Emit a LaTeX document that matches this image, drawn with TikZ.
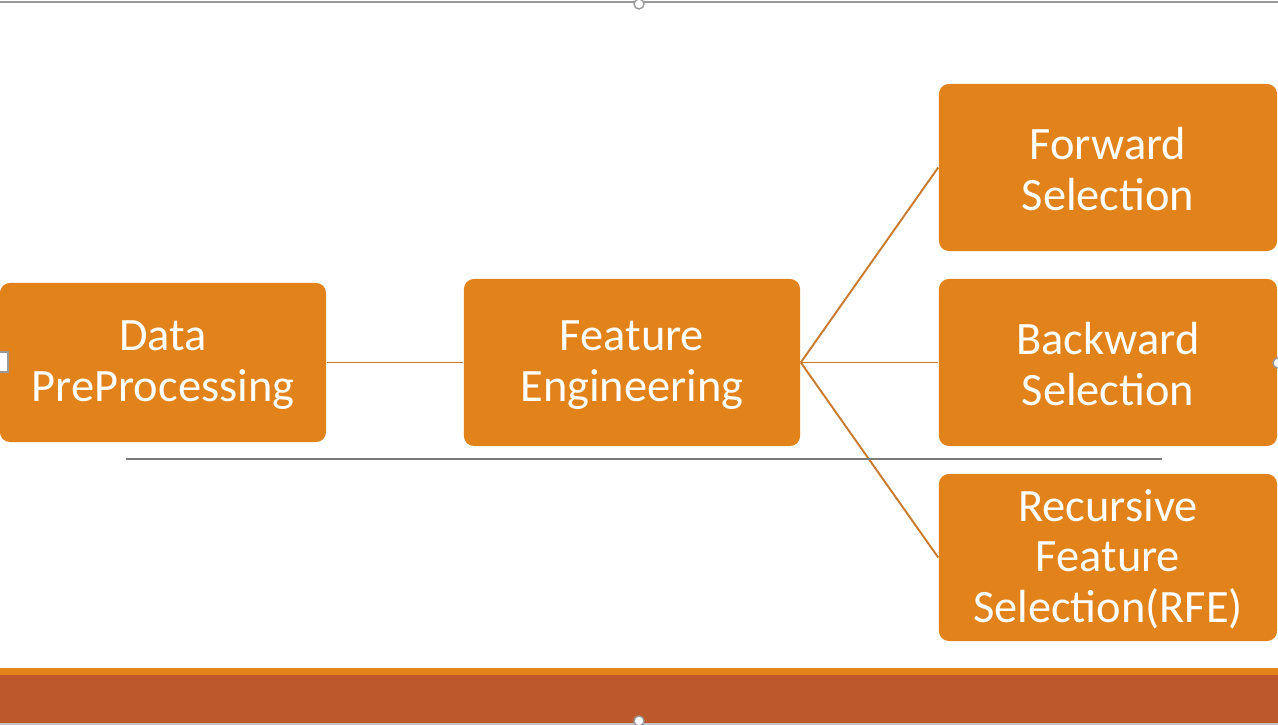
\documentclass[tikz,border=0pt]{standalone}
\usepackage{fontspec}
\setmainfont{Carlito}
\usetikzlibrary{positioning}
\definecolor{borange}{HTML}{E2821A}
\definecolor{lorange}{HTML}{C97A2C}
\definecolor{brust}{HTML}{BD582C}
\definecolor{bar}{HTML}{E3831A}
\definecolor{frame}{HTML}{9A9A9A}

\begin{document}
\begin{tikzpicture}[x=0.01cm, y=-0.01cm,
  box/.style={fill=borange, rounded corners=10pt*0.2845, minimum width=338*0.2845pt, minimum height=167*0.2845pt, inner sep=0pt, align=center, text=white, font=\fontsize{13.2}{14.3}\selectfont},
  link/.style={draw=lorange, line width=0.55pt},
  handle/.style={draw=frame, fill=white, line width=0.4pt},
]
  \useasboundingbox (0,0) rectangle (1278,725);

  % bottom bars
  \fill[bar] (0,668) rectangle (1278,675);
  \fill[brust] (0,675) rectangle (1278,725);

  % selection frame
  \draw[frame, line width=0.6pt] (0,2) -- (1278,2);
  \draw[frame!60, line width=0.5pt] (0,724) -- (1278,724);

  \node[box, minimum width=326*0.2845pt, minimum height=159*0.2845pt] (data) at (163,362.5) {\strut Data\\PreProcessing};
  \node[box, minimum width=336*0.2845pt] (feat) at (632,362.5) {\strut Feature\\Engineering};

  \node[box] (fwd) at (1108,167.5) {\strut Forward\\Selection};
  \node[box] (bwd) at (1108,362.5) {\strut Backward\\Selection};
  \node[box] (rfe) at (1108,557.5) {\strut Recursive\\Feature\\Selection(RFE)};

  \draw[link] (data) -- (feat);
  \draw[link] (feat.east) -- (fwd.west);
  \draw[link] (feat.east) -- (bwd.west);
  \draw[link] (feat.east) -- (rfe.west);

  \draw[frame!80!black, line width=0.45pt] (126,459) -- (1162,459);

  % handles
  \draw[handle] (639,4) circle (5);
  \draw[handle] (639,721) circle (5);
  \draw[handle] (1278,363) circle (5);
  \draw[handle] (-4,352) rectangle (8,372);
\end{tikzpicture}
\end{document}
